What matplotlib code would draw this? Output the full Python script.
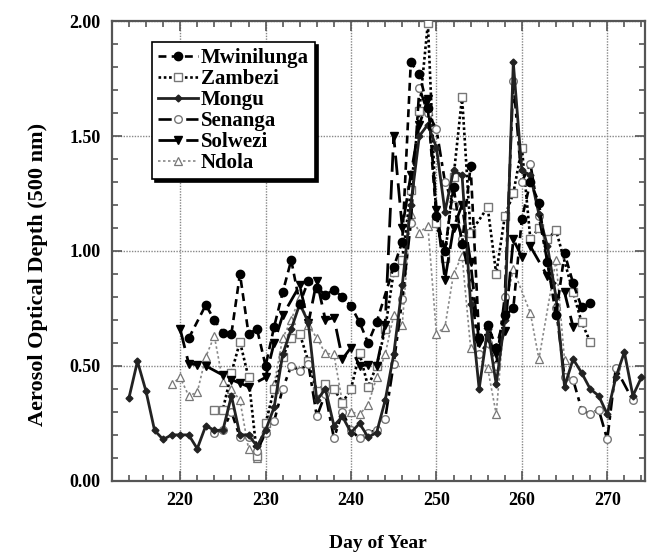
import matplotlib
matplotlib.use("Agg")
import matplotlib.pyplot as plt
import numpy as np
from matplotlib.ticker import MultipleLocator, FormatStrFormatter

plt.rcParams['font.family'] = ['Liberation Serif', 'DejaVu Serif']
plt.rcParams['font.weight'] = 'bold'

# ---- data ----
mwin_days = [221, 223, 224, 225, 226, 227, 228, 229, 230, 231, 232, 233, 234, 235, 236, 237, 238,
             239, 240, 241, 242, 243, 245, 246, 247, 248, 249, 250, 251, 252, 253, 254, 255, 256,
             257, 258, 259, 260, 261, 262, 263, 264, 265, 266, 267, 268]
mwin_vals = [0.62, 0.765, 0.70, 0.645, 0.64, 0.90, 0.64, 0.66, 0.50, 0.67, 0.82, 0.96, 0.77, 0.87,
             0.84, 0.81, 0.83, 0.80, 0.76, 0.69, 0.60, 0.69, 0.93, 1.04, 1.82, 1.77, 1.62, 1.15,
             1.00, 1.28, 1.03, 1.37, 0.62, 0.68, 0.58, 0.72, 0.75, 1.14, 1.30, 1.21, 0.95, 0.72,
             0.99, 0.86, 0.755, 0.775]

zamb_days = [224, 225, 226, 227, 228, 229, 230, 231, 232, 233, 234, 235, 236, 237, 238, 239, 240,
             241, 242, 243, 244, 245, 246, 247, 248, 249, 250, 251, 252, 253, 254, 256, 257, 258,
             259, 260, 261, 262, 263, 264, 266, 267, 268]
zamb_vals = [0.31, 0.31, 0.47, 0.605, 0.45, 0.11, 0.25, 0.40, 0.54, 0.62, 0.64, 0.52, 0.39, 0.42,
             0.40, 0.34, 0.40, 0.555, 0.41, 0.50, 0.66, 0.91, 0.96, 1.265, 1.61, 1.99, 1.12, 0.97,
             1.32, 1.67, 1.08, 1.19, 0.90, 1.15, 1.25, 1.45, 1.05, 1.10, 1.05, 1.09, 0.82, 0.69,
             0.605]

mongu_days = [214, 215, 216, 217, 218, 219, 220, 221, 222, 223, 224, 225, 226, 227, 228, 229, 230,
              231, 232, 233, 234, 235, 236, 237, 238, 239, 240, 241, 242, 243, 244, 245, 246, 247,
              248, 249, 250, 251, 252, 253, 254, 255, 256, 257, 258, 259, 260, 261, 262, 263, 264,
              265, 266, 267, 268, 269, 270, 271, 272, 273, 274]
mongu_vals = [0.36, 0.52, 0.39, 0.22, 0.18, 0.20, 0.20, 0.20, 0.14, 0.24, 0.22, 0.22, 0.37, 0.20,
              0.20, 0.15, 0.22, 0.32, 0.55, 0.66, 0.77, 0.69, 0.35, 0.40, 0.24, 0.28, 0.21, 0.25,
              0.19, 0.21, 0.35, 0.55, 0.85, 1.20, 1.50, 1.55, 1.45, 1.17, 1.35, 1.33, 0.77, 0.40,
              0.66, 0.42, 0.70, 1.82, 1.35, 1.33, 1.16, 1.02, 0.80, 0.41, 0.53, 0.47, 0.40, 0.37,
              0.29, 0.45, 0.56, 0.37, 0.45]

sen_days = [224, 225, 226, 227, 228, 229, 230, 231, 232, 233, 234, 235, 236, 237, 238, 239, 240,
            241, 242, 243, 244, 245, 246, 247, 248, 249, 250, 251, 252, 253, 254, 255, 256, 257,
            258, 259, 260, 261, 262, 263, 264, 265, 266, 267, 268, 269, 270, 271, 273]
sen_vals = [0.21, 0.22, 0.30, 0.19, 0.19, 0.13, 0.21, 0.26, 0.40, 0.50, 0.48, 0.51, 0.28, 0.38,
            0.185, 0.30, 0.22, 0.185, 0.21, 0.22, 0.27, 0.51, 0.79, 1.12, 1.71, 1.60, 1.53, 1.30,
            1.20, 1.05, 0.85, 0.55, 0.60, 0.50, 0.80, 1.74, 1.30, 1.38, 1.15, 0.95, 0.75, 0.45,
            0.44, 0.31, 0.29, 0.31, 0.18, 0.49, 0.35]

solw_days = [220, 221, 222, 223, 225, 226, 227, 228, 230, 231, 232, 234, 235, 236, 237, 238, 239,
             240, 241, 242, 243, 244, 245, 246, 247, 248, 249, 250, 251, 252, 253, 254, 255, 256,
             257, 258, 259, 260, 261, 263, 265, 266]
solw_vals = [0.66, 0.51, 0.505, 0.50, 0.46, 0.44, 0.425, 0.41, 0.45, 0.60, 0.72, 0.85, 0.685, 0.87,
             0.70, 0.71, 0.53, 0.58, 0.50, 0.505, 0.50, 0.68, 1.50, 1.10, 1.33, 1.55, 1.66, 1.18,
             0.875, 1.10, 1.20, 0.95, 0.60, 0.62, 0.55, 0.65, 1.05, 0.975, 1.02, 0.89, 0.82, 0.67]

ndola_days = [219, 220, 221, 222, 223, 224, 225, 226, 227, 228, 229, 230, 231, 232, 233, 234, 235,
              236, 237, 238, 239, 240, 241, 242, 243, 244, 245, 246, 247, 248, 249, 250, 251, 252,
              253, 254, 256, 257, 258, 259, 261, 262, 264, 265]
ndola_vals = [0.42, 0.45, 0.37, 0.385, 0.54, 0.63, 0.43, 0.40, 0.35, 0.14, 0.10, 0.22, 0.42, 0.62,
              0.70, 0.80, 0.68, 0.62, 0.555, 0.55, 0.34, 0.30, 0.29, 0.33, 0.45, 0.55, 0.72, 0.68,
              1.16, 1.08, 1.11, 0.64, 0.67, 0.90, 0.98, 0.58, 0.49, 0.29, 0.74, 0.92, 0.73, 0.53,
              0.96, 0.525]

x_major = [220, 230, 240, 250, 260, 270]
y_major = [0.0, 0.5, 1.0, 1.5, 2.0]

# ---- figure ----
fig = plt.figure(figsize=(6.54, 5.54), dpi=100)
ax = fig.add_axes([0.171, 0.132, 0.815, 0.830])

ax.plot(ndola_days, ndola_vals, linestyle=(0, (1.5, 1.5)), color='#888888', lw=1.2,
        marker='^', ms=5.5, mfc='white', mec='#777777', mew=0.9, label='Ndola', zorder=2)
ax.plot(zamb_days, zamb_vals, linestyle=(0, (1, 1)), color='black', lw=1.9,
        marker='s', ms=5.5, mfc='white', mec='#777777', mew=1.0, label='Zambezi', zorder=3)
ax.plot(sen_days, sen_vals, linestyle=(0, (5, 2, 1.5, 2)), color='black', lw=1.9,
        marker='o', ms=5.5, mfc='white', mec='#777777', mew=1.0, label='Senanga', zorder=3)
ax.plot(solw_days, solw_vals, linestyle=(0, (7, 3)), color='black', lw=2.0,
        marker='v', ms=6, mfc='black', mec='black', label='Solwezi', zorder=4)
ax.plot(mongu_days, mongu_vals, linestyle='-', color='#222222', lw=2.0,
        marker='D', ms=3.5, mfc='#222222', mec='#222222', label='Mongu', zorder=5)
ax.plot(mwin_days, mwin_vals, linestyle=(0, (3, 2)), color='black', lw=1.9,
        marker='o', ms=6, mfc='black', mec='black', label='Mwinilunga', zorder=6)

ax.set_xlim(212, 274.4)
ax.set_ylim(0, 2.0)
ax.set_xticks(x_major)
ax.set_yticks(y_major)
ax.xaxis.set_minor_locator(MultipleLocator(2))
ax.yaxis.set_minor_locator(MultipleLocator(0.1))
ax.yaxis.set_major_formatter(FormatStrFormatter('%.2f'))
ax.grid(True, which='major', linestyle=(0, (1, 1)), color='#888888', lw=1.0)
ax.tick_params(which='both', direction='in', top=True, right=True, colors='#555555',
               labelcolor='black', labelsize=13, width=1.2)
ax.tick_params(which='major', length=7, pad=8)
ax.tick_params(which='minor', length=4)
for s in ax.spines.values():
    s.set_color('#555555')
    s.set_linewidth(1.6)
for lab in ax.get_xticklabels() + ax.get_yticklabels():
    lab.set_fontweight('bold')

ax.set_xlabel('Day of Year', fontsize=14, fontweight='bold', labelpad=19)
ax.set_ylabel('Aerosol Optical Depth (500 nm)', fontsize=16, fontweight='bold')
ax.yaxis.set_label_coords(-0.12, 0.45)

handles, labels = ax.get_legend_handles_labels()
order = ['Mwinilunga', 'Zambezi', 'Mongu', 'Senanga', 'Solwezi', 'Ndola']
hd = dict(zip(labels, handles))
leg = ax.legend([hd[k] for k in order], order, loc='upper left',
                bbox_to_anchor=(0.075, 0.955), fancybox=False, shadow={'color': 'black', 'alpha': 1},
                framealpha=1, edgecolor='black', prop={'weight': 'bold', 'size': 15},
                labelspacing=0.05, handlelength=1.9, handletextpad=0.15, borderpad=0.3,
                borderaxespad=0)
leg.get_frame().set_linewidth(1.2)
leg.set_zorder(10)

fig.savefig('out.png', dpi=100)
